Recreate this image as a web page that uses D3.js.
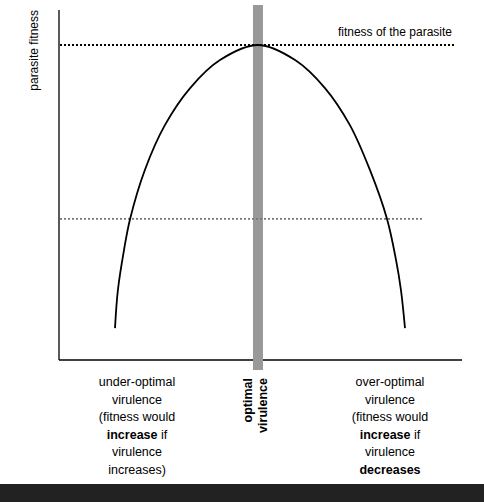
<!DOCTYPE html>
<html><head><meta charset="utf-8">
<script src="https://cdn.jsdelivr.net/npm/d3@7"></script>
<style>body{margin:0;background:#fff}text{font-family:"Liberation Sans",Arial,sans-serif}</style>
</head><body><div id="chart"></div>
<script>
// virulence (0-100) vs fitness (0-100)
var virulence = [0, 1, 3.1, 5.2, 10.3, 17.2, 25.9, 36.2, 49.3, 62.1, 72.4, 81, 87.9, 93.8, 96.9, 98.6, 100];
var fitness = [9.1, 20, 31.4, 40.3, 54.3, 67.1, 77.7, 85.7, 90, 85.7, 77.7, 67.1, 54.3, 40.3, 28.6, 20, 9.1];
var optimal = 49.3;
var peakFitness = 90;
var lowFitness = 40.3;
// each line: [[text, bold], ...]
var leftLabel = [[["under-optimal", 0]], [["virulence", 0]], [["(fitness would", 0]], [["increase", 1], [" if", 0]], [["virulence", 0]], [["increases)", 0]]];
var rightLabel = [[["over-optimal", 0]], [["virulence", 0]], [["(fitness would", 0]], [["increase", 1], [" if", 0]], [["virulence", 0]], [["decreases", 1]]];

var svg = d3.select("#chart").append("svg").attr("width", 484).attr("height", 502);

var x = d3.scaleLinear().domain([0, 100]).range([115, 405]);
var y = d3.scaleLinear().domain([0, 100]).range([360, 10]);

// axes
svg.append("line").attr("x1", 59).attr("x2", 59).attr("y1", 10).attr("y2", 360).attr("stroke", "#000").attr("stroke-width", 1.3);
svg.append("line").attr("x1", 59).attr("x2", 462).attr("y1", 360).attr("y2", 360).attr("stroke", "#000").attr("stroke-width", 1.3);

svg.append("text").attr("transform", "translate(38,10) rotate(-90)").attr("text-anchor", "end")
  .attr("font-size", 12).text("parasite fitness");

// optimal bar
svg.append("rect").attr("x", x(optimal) - 5).attr("y", 5).attr("width", 10).attr("height", 365).attr("fill", "#999");

// reference lines
svg.append("line").attr("x1", 60).attr("x2", 456).attr("y1", y(peakFitness)).attr("y2", y(peakFitness))
  .attr("stroke", "#000").attr("stroke-width", 1.8).attr("stroke-dasharray", "2,2");
svg.append("line").attr("x1", 60).attr("x2", 422).attr("y1", y(lowFitness)).attr("y2", y(lowFitness))
  .attr("stroke", "#777").attr("stroke-width", 1.8).attr("stroke-dasharray", "2,2");
svg.append("text").attr("x", 452).attr("y", 36).attr("text-anchor", "end").attr("font-size", 12).text("fitness of the parasite");

// curve
var pts = virulence.map((v, i) => [v, fitness[i]]);
svg.append("path").datum(pts)
  .attr("d", d3.line().x(d => x(d[0])).y(d => y(d[1])).curve(d3.curveCatmullRom))
  .attr("fill", "none").attr("stroke", "#000").attr("stroke-width", 1.8);

// bottom labels
function block(lines, cx) {
  lines.forEach(function (parts, i) {
    var t = svg.append("text").attr("text-anchor", "middle").attr("font-size", 12.5)
      .attr("x", cx).attr("y", 386 + i * 17.5);
    parts.forEach(function (p) {
      t.append("tspan").attr("font-weight", p[1] ? "bold" : null).text(p[0]);
    });
  });
}
block(leftLabel, 137);
block(rightLabel, 390);

svg.append("text").attr("transform", "translate(252,378) rotate(-90)").attr("text-anchor", "end")
  .attr("font-size", 12.5).attr("font-weight", "bold")
  .selectAll("tspan").data(["optimal", "virulence"]).enter().append("tspan")
  .attr("x", 0).attr("dy", (d, i) => i ? 15 : 0).text(d => d);

svg.append("rect").attr("x", 0).attr("y", 484).attr("width", 484).attr("height", 18).attr("fill", "#222");
</script></body></html>
